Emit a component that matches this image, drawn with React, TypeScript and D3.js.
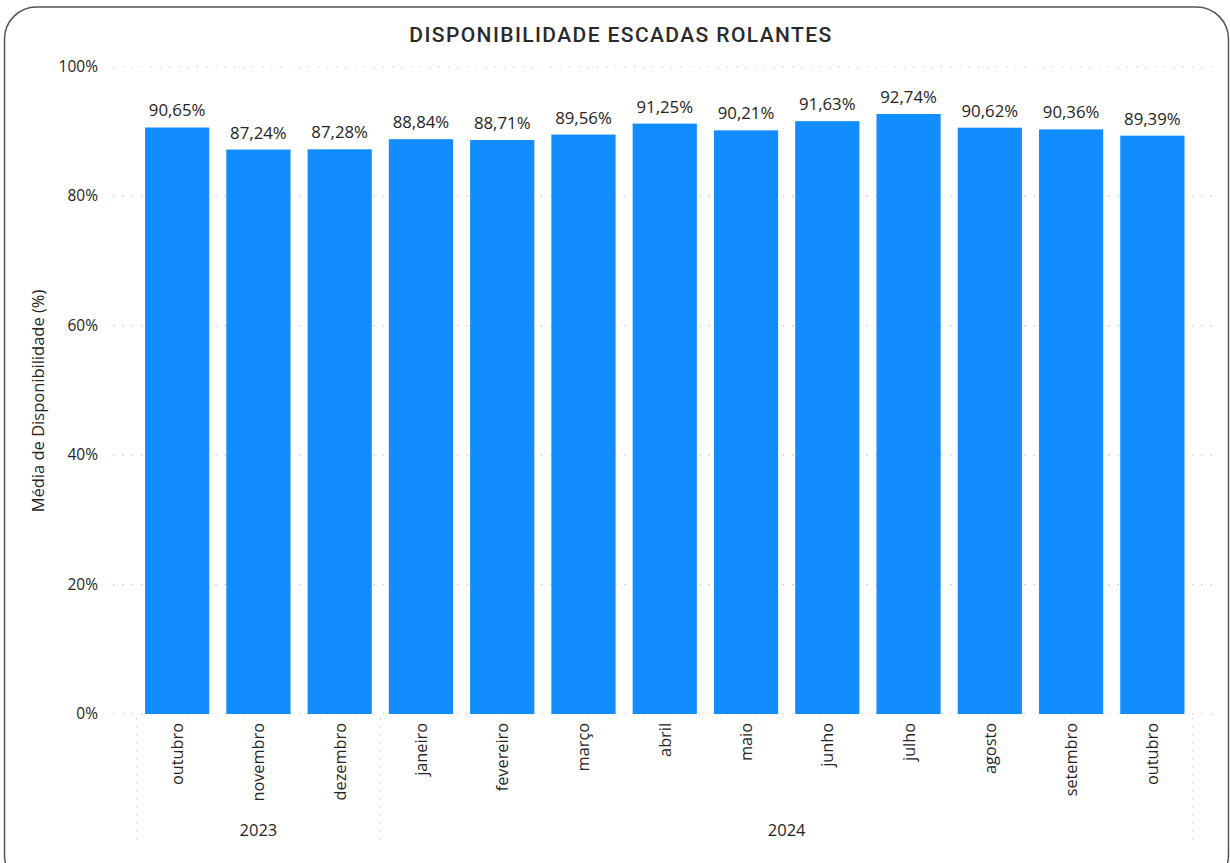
import React from "react";
import * as d3 from "d3";

const months = ["outubro","novembro","dezembro","janeiro","fevereiro","março","abril","maio","junho","julho","agosto","setembro","outubro"];
const years = ["2023","2023","2023","2024","2024","2024","2024","2024","2024","2024","2024","2024","2024"];
const values = [90.65, 87.24, 87.28, 88.84, 88.71, 89.56, 91.25, 90.21, 91.63, 92.74, 90.62, 90.36, 89.39];
const yTicks = [0, 20, 40, 60, 80, 100];
const yearGroups = ["2023", "2024"];

const W = 1230, H = 863;

export default function App() {
  const x = d3.scaleBand<number>()
    .domain(d3.range(months.length))
    .range([136.5, 1193])
    .paddingInner(0.21)
    .paddingOuter(0.105);
  const y = d3.scaleLinear().domain([0, 100]).range([714, 67]);
  const fmt = (v: number) => v.toFixed(2).replace(".", ",") + "%";
  const font = "'Open Sans', 'Noto Sans', sans-serif";

  const groupBounds = yearGroups.map((yr) => {
    const idx = years.map((v, i) => (v === yr ? i : -1)).filter((i) => i >= 0);
    const x0 = x(idx[0])! - (x.step() - x.bandwidth()) / 2;
    const x1 = x(idx[idx.length - 1])! + x.bandwidth() + (x.step() - x.bandwidth()) / 2;
    return { yr, x0, x1 };
  });
  const seps = Array.from(new Set(groupBounds.flatMap((g) => [g.x0, g.x1])));

  return (
    <svg width={W} height={H} style={{ position: "absolute", left: 0, top: 0, background: "#fff" }}>
      <rect x={4.5} y={7} width={1224} height={880} rx={32} ry={32} fill="#fff" stroke="#555" strokeWidth={1.5} />
      <text x={621} y={42} textAnchor="middle" fontFamily="Roboto, sans-serif" fontWeight={500} fontSize={21} letterSpacing={1.4} fill="#2a2a2a">DISPONIBILIDADE ESCADAS ROLANTES</text>

      {yTicks.map((t) => (
        <g key={t}>
          <line x1={113} x2={1213} y1={y(t)} y2={y(t)} stroke="#C8C6C4" strokeWidth={1.2} strokeDasharray="1.5,7.8" />
          <text x={98} y={y(t) + 5} textAnchor="end" fontFamily={font} fontSize={15.5} fill="#252423">{t}%</text>
        </g>
      ))}

      <text transform={`translate(44,401) rotate(-90)`} textAnchor="middle" fontFamily={font} fontSize={16.5} fill="#252423">Média de Disponibilidade (%)</text>

      {values.map((v, i) => (
        <g key={i}>
          <rect x={x(i)} y={y(v)} width={x.bandwidth()} height={y(0) - y(v)} fill="#118DFF" />
          <text x={x(i)! + x.bandwidth() / 2} y={y(v) - 11} textAnchor="middle" fontFamily={font} fontSize={16.8} fill="#252423">{fmt(v)}</text>
          <text transform={`translate(${x(i)! + x.bandwidth() / 2 + 6},723) rotate(-90)`} textAnchor="end" fontFamily={font} fontSize={16.3} fill="#252423">{months[i]}</text>
        </g>
      ))}

      {seps.map((sx, i) => (
        <line key={i} x1={sx} x2={sx} y1={718} y2={845} stroke="#C8C6C4" strokeWidth={1.2} strokeDasharray="1.5,6.5" />
      ))}
      {groupBounds.map((g) => (
        <text key={g.yr} x={(g.x0 + g.x1) / 2} y={836} textAnchor="middle" fontFamily={font} fontSize={16.5} fill="#252423">{g.yr}</text>
      ))}
    </svg>
  );
}
